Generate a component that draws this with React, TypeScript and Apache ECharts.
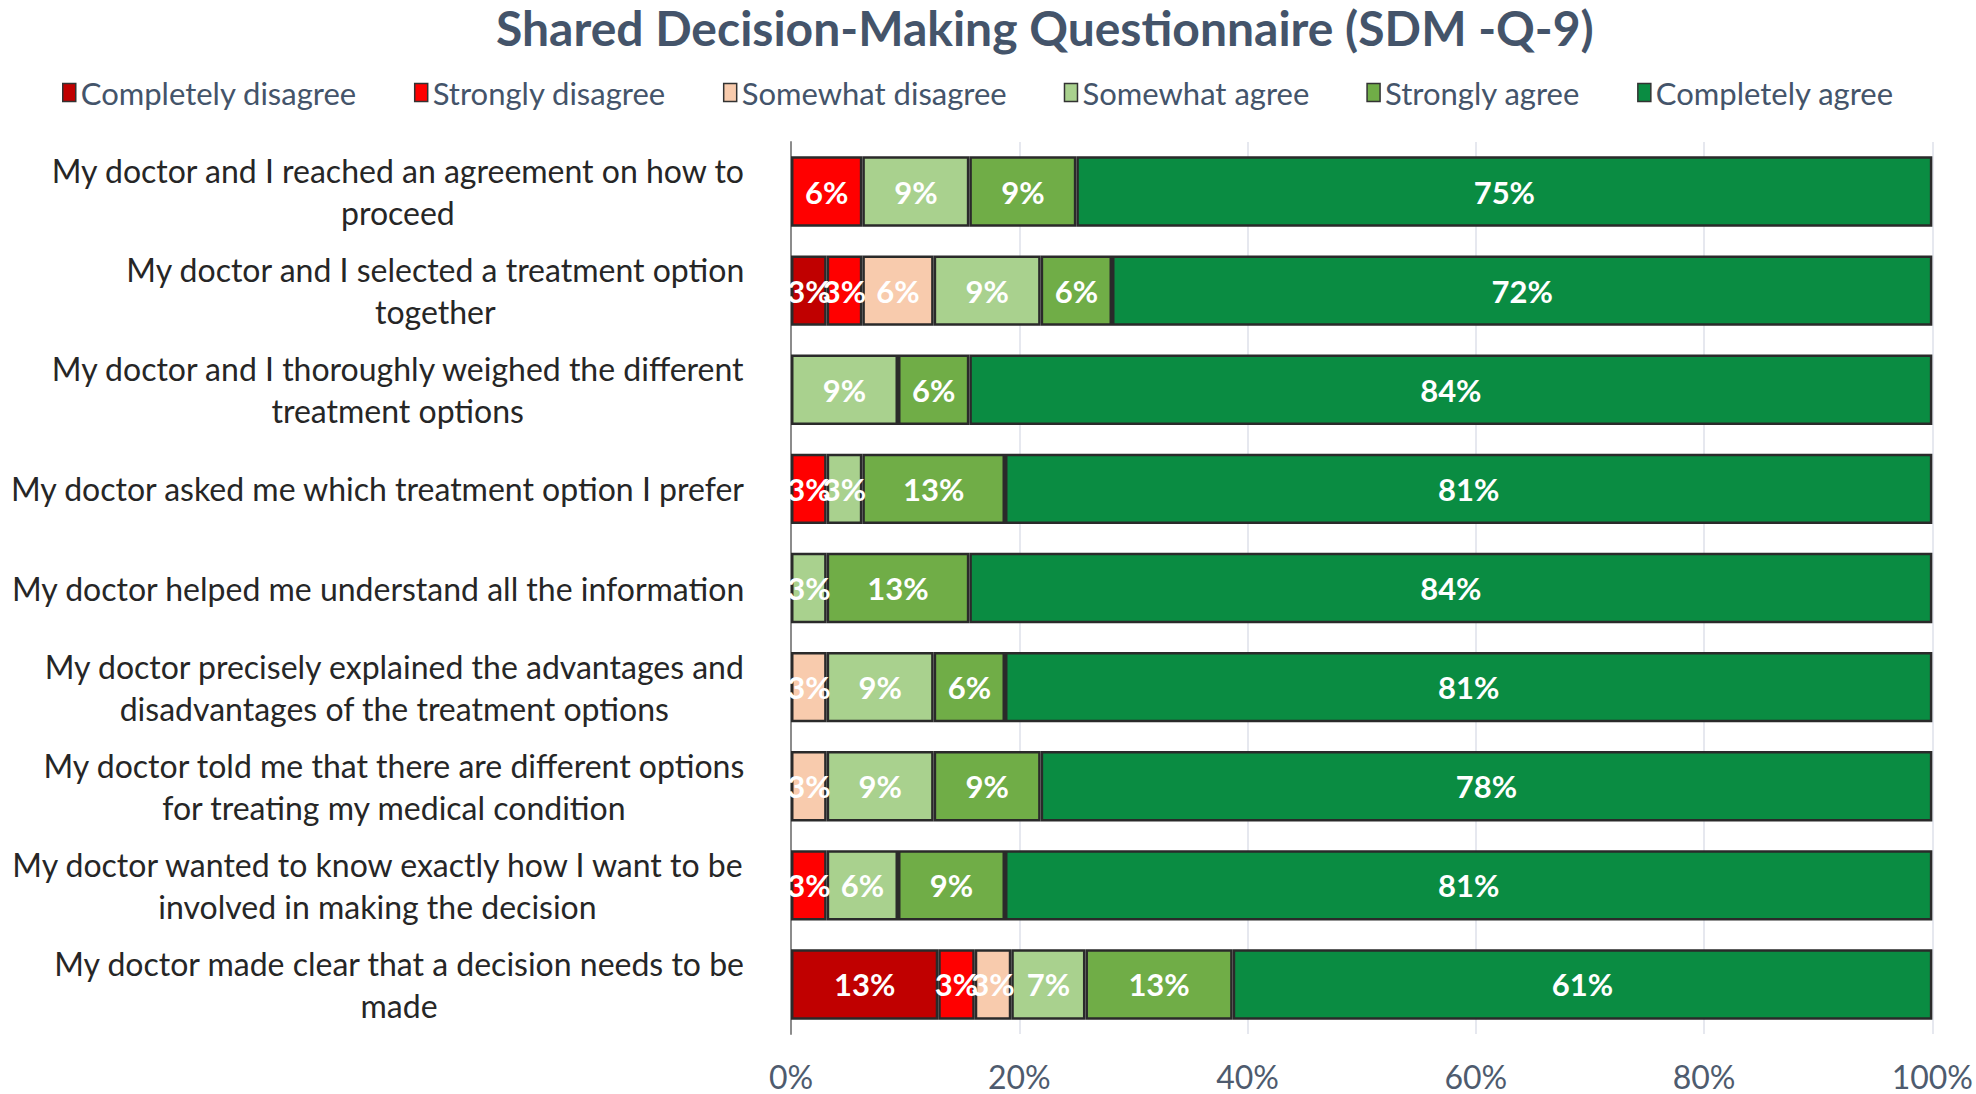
import React, { useEffect, useRef } from "react";
import * as echarts from "echarts";

const categories = [
  "My doctor and I reached an agreement on how to\nproceed",
  "My doctor and I selected a treatment option\ntogether",
  "My doctor and I thoroughly weighed the different\ntreatment options",
  "My doctor asked me which treatment option I prefer",
  "My doctor helped me understand all the information",
  "My doctor precisely explained the advantages and\ndisadvantages of the treatment options",
  "My doctor told me that there are different options\nfor treating my medical condition",
  "My doctor wanted to know exactly how I want to be\ninvolved in making the decision",
  "My doctor made clear that a decision needs to be\nmade",
];

const seriesNames = [
  "Completely disagree",
  "Strongly disagree",
  "Somewhat disagree",
  "Somewhat agree",
  "Strongly agree",
  "Completely agree",
];

// share of respondents (%) per statement, top to bottom
const completelyDisagree = [0, 3.125, 0, 0, 0, 0, 0, 0, 12.9];
const stronglyDisagree = [6.25, 3.125, 0, 3.125, 0, 0, 0, 3.125, 3.2];
const somewhatDisagree = [0, 6.25, 0, 0, 0, 3.125, 3.125, 0, 3.2];
const somewhatAgree = [9.375, 9.375, 9.375, 3.125, 3.125, 9.375, 9.375, 6.25, 6.5];
const stronglyAgree = [9.375, 6.25, 6.25, 12.5, 12.5, 6.25, 9.375, 9.375, 12.9];
const completelyAgree = [75, 71.875, 84.375, 81.25, 84.375, 81.25, 78.125, 81.25, 61.3];

const xTicks = [0, 20, 40, 60, 80, 100];

const colors = ["#C00000", "#FF0000", "#F8CBAD", "#A9D18E", "#70AD47", "#0A8C42"];

export default function App() {
  const ref = useRef<HTMLDivElement>(null);
  useEffect(() => {
    if (!ref.current) return;
    const chart = echarts.init(ref.current, undefined, { renderer: "svg" });
    const all = [
      completelyDisagree,
      stronglyDisagree,
      somewhatDisagree,
      somewhatAgree,
      stronglyAgree,
      completelyAgree,
    ];
    const font = "Lato, 'Open Sans', sans-serif";
    const series = all.map((vals, i) => ({
      name: seriesNames[i],
      type: "bar",
      stack: "total",
      barCategoryGap: "29%",
      data: vals.map((v) => (v > 0 ? v : "-")),
      itemStyle: { color: colors[i], borderColor: "#2a2a2a", borderWidth: 2.5 },
      label: {
        show: true,
        position: "inside",
        color: "#ffffff",
        fontFamily: font,
        fontWeight: "bold",
        fontSize: 31,
        formatter: (p: any) => `${Math.round(p.value)}%`,
      },
    }));
    chart.setOption({
      animation: false,
      backgroundColor: "#ffffff",
      color: colors,
      title: {
        text: "Shared Decision-Making Questionnaire (SDM -Q-9)",
        left: 496,
        top: 0,
        padding: [0, 0, 0, 0],
        textStyle: {
          color: "#44546A",
          fontFamily: font,
          fontWeight: "bold",
          fontSize: 48,
          lineHeight: 54,
        },
      },
      legend: {
        data: seriesNames,
        top: 72,
        left: 57,
        itemWidth: 13,
        itemHeight: 18,
        itemGap: 57,
        icon: "rect",
        itemStyle: { borderColor: "#333", borderWidth: 1.5 },
        textStyle: { color: "#44546A", fontFamily: font, fontSize: 31 },
      },
      grid: { left: 791, right: 40, top: 142, bottom: 60, containLabel: false },
      xAxis: {
        type: "value",
        min: xTicks[0],
        max: xTicks[xTicks.length - 1],
        interval: 20,
        axisLine: { show: false },
        axisTick: { show: false },
        splitLine: { show: true, lineStyle: { color: "#E6E8EF", width: 2 } },
        axisLabel: {
          formatter: "{value}%",
          color: "#4E5B6E",
          fontFamily: font,
          fontSize: 32,
          margin: 26,
        },
      },
      yAxis: {
        type: "category",
        inverse: true,
        data: categories,
        axisTick: { show: false },
        axisLine: { show: true, lineStyle: { color: "#8C8C8C", width: 2 } },
        axisLabel: {
          margin: 46,
          color: "#262626",
          fontFamily: font,
          fontSize: 32,
          formatter: (v: string) =>
            v
              .split("\n")
              .map((l) => `{a|${l}}`)
              .join("\n"),
          rich: {
            a: {
              align: "center",
              color: "#262626",
              fontFamily: font,
              fontSize: 32,
              lineHeight: 42,
            },
          },
        },
      },
      series,
    });
    return () => chart.dispose();
  }, []);
  return (
    <div
      ref={ref}
      style={{ position: "fixed", left: 0, top: 0, width: 1976, height: 1094, background: "#fff" }}
    />
  );
}
